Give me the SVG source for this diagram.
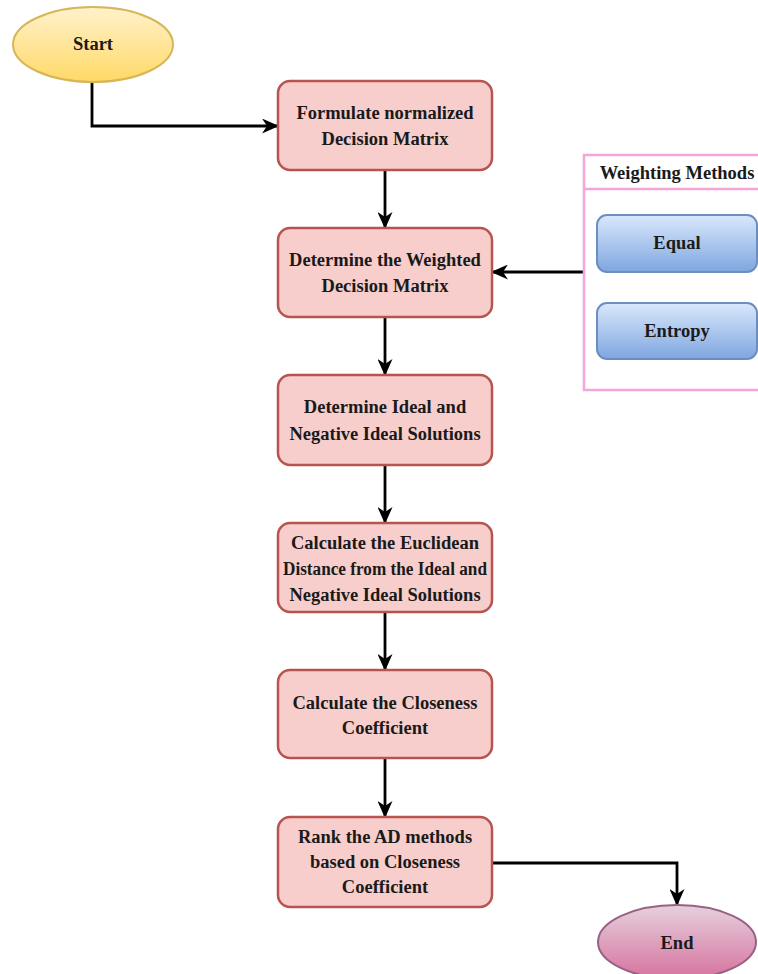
<svg xmlns="http://www.w3.org/2000/svg" width="758" height="974" viewBox="0 0 758 974">
<defs>
<linearGradient id="gy" x1="0" y1="0" x2="0" y2="1"><stop offset="0" stop-color="#fff2cc"/><stop offset="1" stop-color="#ffd966"/></linearGradient>
<linearGradient id="gb" x1="0" y1="0" x2="0" y2="1"><stop offset="0" stop-color="#dae8fc"/><stop offset="1" stop-color="#7ea6e0"/></linearGradient>
<linearGradient id="gp" x1="0" y1="0" x2="0" y2="1"><stop offset="0" stop-color="#e6d0de"/><stop offset="1" stop-color="#d5739d"/></linearGradient>
<marker id="arr" viewBox="0 0 17 15" refX="16" refY="7.5" markerWidth="17" markerHeight="15" markerUnits="userSpaceOnUse" orient="auto">
<path d="M0,0 L17,7.5 L0,15 L5,7.5 z" fill="#000"/>
</marker>
<style>
text{font-family:"Liberation Serif","Times New Roman",serif;font-weight:bold;font-size:18.5px;fill:#1a1a1a;text-anchor:middle;dominant-baseline:central}
.box{fill:#f8cecc;stroke:#b85450;stroke-width:2.5}
.blue{fill:url(#gb);stroke:#6c8ebf;stroke-width:2}
.conn{fill:none;stroke:#000;stroke-width:2.8;marker-end:url(#arr)}
</style>
</defs>
<g id="connectors">
<path class="conn" d="M92,82 V126 H278"/>
<path class="conn" d="M385,170 V228"/>
<path class="conn" d="M584,272 H492"/>
<path class="conn" d="M385,317 V375"/>
<path class="conn" d="M385,465 V523"/>
<path class="conn" d="M385,612 V670"/>
<path class="conn" d="M385,758 V817"/>
<path class="conn" d="M492,863 H677 V905"/>
</g>
<g id="start">
<ellipse cx="93" cy="44.5" rx="80" ry="37.5" fill="url(#gy)" stroke="#d6b656" stroke-width="2"/>
<text x="93" y="44">Start</text>
</g>
<g id="n1">
<rect class="box" x="278" y="81" width="214" height="89" rx="12"/>
<text x="385" y="113">Formulate normalized</text>
<text x="385" y="139">Decision Matrix</text>
</g>
<g id="n2">
<rect class="box" x="278" y="228" width="214" height="89" rx="12"/>
<text x="385" y="260">Determine the Weighted</text>
<text x="385" y="286">Decision Matrix</text>
</g>
<g id="n3">
<rect class="box" x="278" y="375" width="214" height="90" rx="12"/>
<text x="385" y="407">Determine Ideal and</text>
<text x="385" y="434">Negative Ideal Solutions</text>
</g>
<g id="n4">
<rect class="box" x="278" y="523" width="214" height="89" rx="12"/>
<text x="385" y="543">Calculate the Euclidean</text>
<text x="385" y="569" textLength="204" lengthAdjust="spacingAndGlyphs">Distance from the Ideal and</text>
<text x="385" y="595">Negative Ideal Solutions</text>
</g>
<g id="n5">
<rect class="box" x="278" y="670" width="214" height="88" rx="12"/>
<text x="385" y="703">Calculate the Closeness</text>
<text x="385" y="728">Coefficient</text>
</g>
<g id="n6">
<rect class="box" x="278" y="817" width="214" height="90" rx="12"/>
<text x="385" y="837">Rank the AD methods</text>
<text x="385" y="862">based on Closeness</text>
<text x="385" y="887">Coefficient</text>
</g>
<g id="end">
<ellipse cx="677" cy="942" rx="79" ry="37" fill="url(#gp)" stroke="#996185" stroke-width="2"/>
<text x="677" y="943">End</text>
</g>
<g id="weighting">
<rect x="584" y="155" width="190" height="235" fill="#fff" stroke="#f3a6d8" stroke-width="2.5"/>
<line x1="584" y1="189" x2="774" y2="189" stroke="#f3a6d8" stroke-width="2.5"/>
<text x="677" y="173">Weighting Methods</text>
</g>
<g id="equal">
<rect class="blue" x="597" y="215" width="160" height="57" rx="10"/>
<text x="677" y="243">Equal</text>
</g>
<g id="entropy">
<rect class="blue" x="597" y="303" width="160" height="56" rx="10"/>
<text x="677" y="331">Entropy</text>
</g>
</svg>
